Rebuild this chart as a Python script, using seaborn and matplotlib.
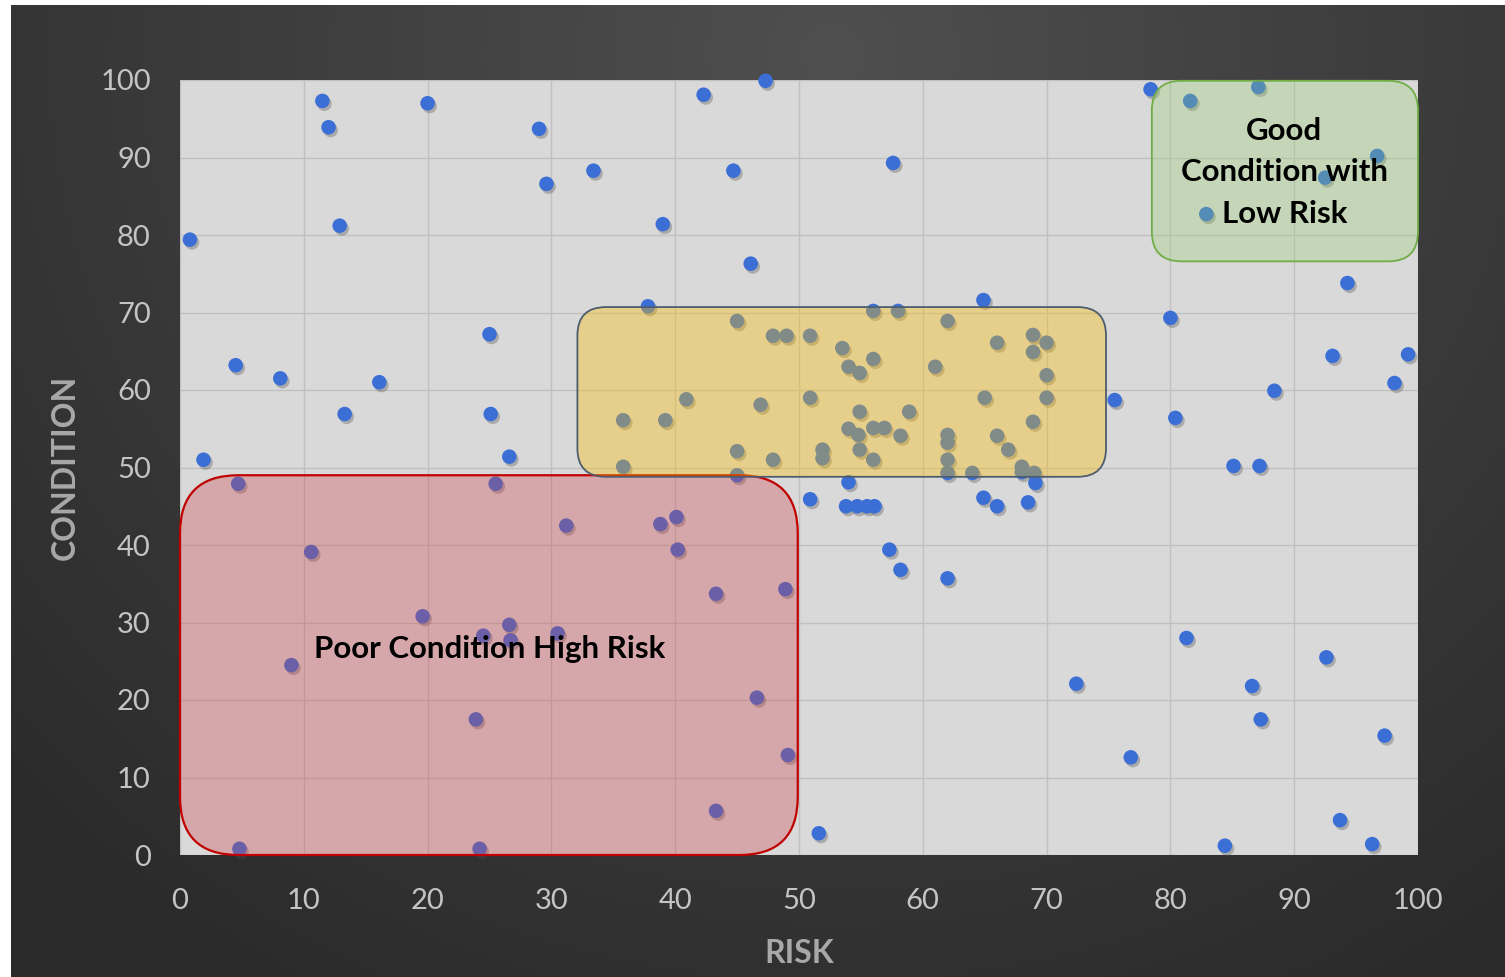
import numpy as np
import pandas as pd
import matplotlib
matplotlib.use("Agg")
import matplotlib.pyplot as plt
import matplotlib.patheffects as pe
from matplotlib.patches import FancyBboxPatch
import seaborn as sns

# ---- asset data: risk score vs condition score ----
risk = [
    0.8, 11.5, 12.0, 20.0, 12.9, 29.0, 29.6, 33.4, 39.0, 42.3, 47.3, 44.7, 46.1, 57.6,
    37.8, 4.5, 8.1, 16.1, 25.0, 13.3, 25.1, 1.9, 26.6, 64.9,
    4.7, 25.5, 10.6, 31.2, 38.8, 40.1, 40.2, 43.3, 48.9, 19.6, 26.6, 24.5, 26.7, 30.5,
    9.0, 23.9, 46.6, 49.1, 43.3, 4.8, 24.2,
    50.9, 54.0, 53.8, 54.7, 55.5, 56.1, 57.3, 58.2, 62.0, 64.9, 66.0, 68.5, 69.1,
    72.4, 76.8, 51.6,
    78.4, 81.6, 87.1, 96.7, 92.5, 82.9, 94.3, 80.0, 93.1, 99.2, 98.1, 88.4, 75.5,
    80.4, 85.1, 87.2, 81.3, 92.6, 86.6, 87.3, 97.3, 93.7, 84.4, 96.3,
    45.0, 47.9, 49.0, 50.9, 53.5, 56.0, 54.0, 54.9, 56.0, 58.0, 62.0, 61.0, 66.0,
    68.9, 68.9, 70.0, 70.0, 70.0, 68.9, 65.0, 40.9, 35.8, 39.2, 46.9, 50.9, 54.9,
    58.9, 54.0, 54.8, 56.0, 56.9, 58.2, 54.9, 56.0, 45.0, 47.9, 51.9, 51.9, 62.0,
    62.0, 62.0, 66.0, 66.9, 35.8, 62.0, 64.0, 68.0, 68.0, 69.0, 45.0,
]
condition = [
    79.4, 97.3, 93.9, 97.0, 81.2, 93.7, 86.6, 88.3, 81.4, 98.1, 99.9, 88.3, 76.3, 89.3,
    70.8, 63.2, 61.5, 61.0, 67.2, 56.9, 56.9, 51.0, 51.4, 71.6,
    47.9, 47.9, 39.1, 42.5, 42.7, 43.6, 39.4, 33.7, 34.3, 30.8, 29.7, 28.3, 27.7, 28.6,
    24.5, 17.5, 20.3, 12.9, 5.7, 0.8, 0.8,
    45.9, 48.1, 45.0, 45.0, 45.0, 45.0, 39.4, 36.8, 35.7, 46.1, 45.0, 45.5, 48.0,
    22.1, 12.6, 2.8,
    98.8, 97.3, 99.1, 90.2, 87.4, 82.7, 73.8, 69.3, 64.4, 64.6, 60.9, 59.9, 58.7,
    56.4, 50.2, 50.2, 28.0, 25.5, 21.8, 17.5, 15.4, 4.5, 1.2, 1.4,
    68.9, 67.0, 67.0, 67.0, 65.4, 64.0, 63.0, 62.2, 70.2, 70.2, 68.9, 63.0, 66.1,
    67.1, 64.9, 66.1, 61.9, 59.0, 55.9, 59.0, 58.8, 56.1, 56.1, 58.1, 59.0, 57.2,
    57.2, 55.0, 54.2, 55.1, 55.1, 54.1, 52.3, 51.0, 52.1, 51.0, 52.3, 51.2, 54.2,
    53.2, 51.0, 54.1, 52.3, 50.1, 49.3, 49.3, 50.1, 49.4, 49.3, 49.0,
]

axis_ticks = list(range(0, 101, 10))

# ---- highlighted zones (risk range, condition range) ----
zone_labels = ["Poor Condition High Risk", "", "Good\nCondition with\nLow Risk"]
zone_risk = [(0.0, 49.9), (32.1, 74.8), (78.5, 100.0)]
zone_condition = [(0.0, 49.0), (48.8, 70.7), (76.6, 99.9)]
zone_label_pos = [(25.0, 26.6), None, (89.2, 88.1)]

df = pd.DataFrame({"RISK": risk, "CONDITION": condition})

sns.set_style("white")
plt.rcParams["font.family"] = ["Lato", "DejaVu Sans"]

W, H = 1505, 977
fig = plt.figure(figsize=(W / 100, H / 100), dpi=100, facecolor="white")

# dark radial backdrop
bg = fig.add_axes([11 / W, 0, 1 - 11 / W, 1 - 5 / H])
bg.set_axis_off()
gy, gx = np.mgrid[0:1:400j, 0:1:600j]
d = np.sqrt(((gx - 0.55) / 0.75) ** 2 + ((gy - 0.05) / 1.1) ** 2)
shade = 0.31 - 0.14 * np.clip(d, 0, 1)
bg.imshow(np.dstack([shade] * 3), extent=[0, 1, 0, 1], aspect="auto",
          origin="upper", interpolation="bilinear")
bg.set_xlim(0, 1)
bg.set_ylim(0, 1)

ax = fig.add_axes([180 / W, 1 - 855 / H, 1238 / W, 775 / H])
ax.set_facecolor("#d9d9d9")
for s in ax.spines.values():
    s.set_visible(False)
ax.grid(True, color="#c0c0c0", linewidth=1.0)
ax.set_axisbelow(True)

sns.scatterplot(data=df, x="RISK", y="CONDITION", ax=ax, s=110,
                color="#3b6fd6", edgecolor="none", linewidth=0, zorder=2,
                clip_on=False)
ax.collections[-1].set_path_effects([
    pe.SimplePatchShadow(offset=(1.5, -2), shadow_rgbFace="#555555", alpha=0.35),
    pe.Normal(),
])

ax.set_xlim(0, 100)
ax.set_ylim(0, 100)
ax.set_xticks(axis_ticks)
ax.set_yticks(axis_ticks)
ax.tick_params(axis="both", length=0, labelsize=21, labelcolor="#c4c4c4")
ax.tick_params(axis="x", pad=24)
ax.tick_params(axis="y", pad=21)

# pixel aspect so rounded corners stay circular
aspect = (1238 / 100) / (775 / 100)
zone_style = [
    dict(fc=(0.82, 0.25, 0.28, 0.32), ec="#c00000", lw=1.6, r=4.7),
    dict(fc=(1.0, 0.75, 0.0, 0.36), ec="#4d5d6e", lw=1.3, r=2.3),
    dict(fc=(0.58, 0.82, 0.42, 0.30), ec="#70ad47", lw=1.3, r=2.4),
]
for (x0, x1), (y0, y1), st in zip(zone_risk, zone_condition, zone_style):
    box = FancyBboxPatch((x0, y0), x1 - x0, y1 - y0,
                         boxstyle=f"round,pad=0,rounding_size={st['r']}",
                         mutation_aspect=aspect, facecolor=st["fc"],
                         edgecolor=st["ec"], linewidth=st["lw"], zorder=3,
                         clip_on=False)
    ax.add_patch(box)

for label, pos in zip(zone_labels, zone_label_pos):
    if label and pos:
        ax.text(pos[0], pos[1], label, ha="center", va="center", fontsize=22.5,
                fontweight="bold", color="black", linespacing=1.58, zorder=5)

ax.set_xlabel("RISK", fontsize=23, fontweight="bold", color="#a8a8a8")
ax.set_ylabel("CONDITION", fontsize=23, fontweight="bold", color="#a8a8a8")
ax.xaxis.set_label_coords(0.5, -0.108)
ax.yaxis.set_label_coords(-0.081, 0.5)

fig.savefig("out.png", dpi=100, facecolor=fig.get_facecolor())
